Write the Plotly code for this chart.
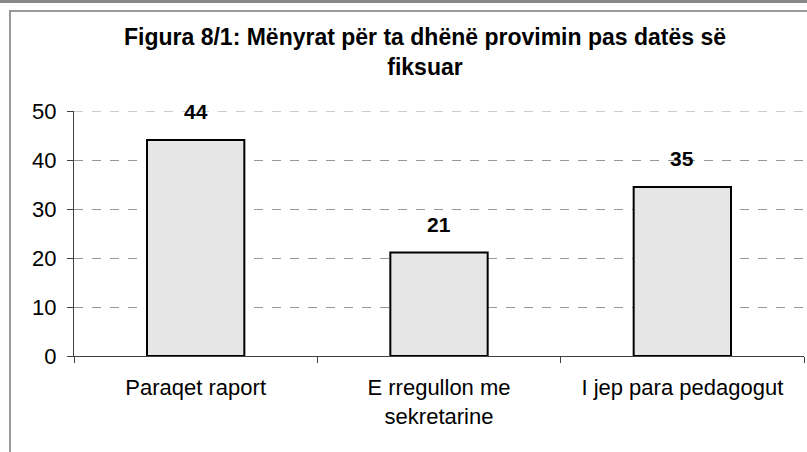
import plotly.graph_objects as go

categories = ["Paraqet raport", "E rregullon me<br>sekretarine", "I jep para pedagogut"]
values = [44.1, 21.1, 34.5]
labels = ["44", "21", "35"]
title_text = "Figura 8/1: Mënyrat për ta dhënë provimin pas datës së<br>fiksuar"

FONT = "Liberation Sans, Arial, sans-serif"

fig = go.Figure()
fig.add_trace(go.Bar(
    x=categories, y=values, width=0.4,
    marker=dict(color="#E6E6E6", line=dict(color="black", width=2)),
    hoverinfo="skip",
))

for c, v, t in zip(categories, values, labels):
    fig.add_annotation(x=c, y=v, text="<b>%s</b>" % t, showarrow=False,
                       yanchor="middle", yshift=28,
                       font=dict(family=FONT, size=21, color="black"))

L, R, T, B = 74, 3, 111, 96
W, H = 807, 452
pw, ph = W - L - R, H - T - B

def px(x):
    return (x - L) / pw

def py(y):
    return (H - B - y) / ph

shapes = [
    # dark band at the very top
    dict(type="rect", xref="paper", yref="paper", x0=px(-5), x1=px(W + 5), y0=py(0), y1=py(3),
         fillcolor="#888888", line=dict(width=0), layer="above"),
    # chart-area frame: top edge and left edge as thin filled rects
    dict(type="rect", xref="paper", yref="paper", x0=px(9), x1=px(W + 5), y0=py(10), y1=py(12),
         fillcolor="#999999", line=dict(width=0), layer="above"),
    dict(type="rect", xref="paper", yref="paper", x0=px(9), x1=px(11), y0=py(10), y1=py(H + 5),
         fillcolor="#999999", line=dict(width=0), layer="above"),
    dict(type="line", xref="paper", yref="y", x0=0, x1=1, y0=50, y1=50, layer="below",
         line=dict(color="#999999", width=1, dash="dash")),
]

fig.update_layout(
    width=W, height=H,
    margin=dict(l=L, r=R, t=T, b=B),
    paper_bgcolor="white", plot_bgcolor="white",
    showlegend=False,
    bargap=0.6,
    title=dict(text="<b>%s</b>" % title_text, x=425 / W, xanchor="center", y=1 - 45 / H, yanchor="middle",
               font=dict(family=FONT, size=23, color="black"), automargin=False),
    font=dict(family=FONT, size=22, color="black"),
    shapes=shapes,
    xaxis=dict(showline=True, linecolor="#404040", linewidth=1, ticks="outside", tickson="boundaries",
               ticklen=6, tickcolor="#404040", showgrid=False, tickfont=dict(size=22),
               ticklabelstandoff=12, automargin=False, fixedrange=True),
    yaxis=dict(range=[0, 50], dtick=10, showline=True, linecolor="#404040", linewidth=1,
               ticks="outside", ticklen=6, tickcolor="#404040",
               showgrid=True, gridcolor="#999999", griddash="dash", gridwidth=1,
               zeroline=False, tickfont=dict(size=22), ticklabelstandoff=6,
               automargin=False, fixedrange=True),
)

fig.write_html("out.html", config={"displayModeBar": False},
               post_script="document.body.style.margin='0px';")
